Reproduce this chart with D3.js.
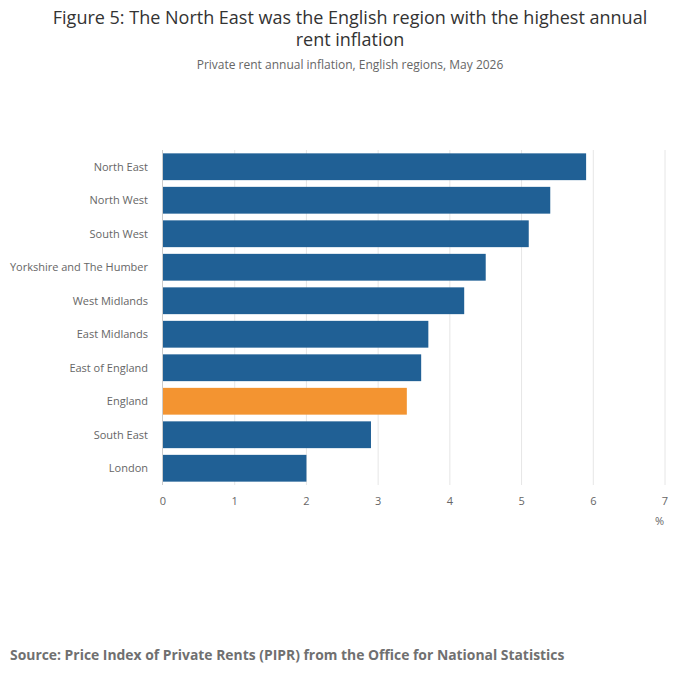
<!DOCTYPE html>
<meta charset="utf-8">
<style>
    body { margin: 0; font-family: "Open Sans", sans-serif; background: #fff; }
    text { font-family: "Open Sans", sans-serif; }
</style>
<body>
<script src="https://d3js.org/d3.v7.min.js"></script>
<script>
var regions = ["North East", "North West", "South West", "Yorkshire and The Humber", "West Midlands",
    "East Midlands", "East of England", "England", "South East", "London"];
var inflation = [5.9, 5.4, 5.1, 4.5, 4.2, 3.7, 3.6, 3.4, 2.9, 2.0];
var xTicks = [0, 1, 2, 3, 4, 5, 6, 7];

var svg = d3.select("body").append("svg").attr("width", 700).attr("height", 682);

svg.append("text").attr("x", 350).attr("y", 24).attr("text-anchor", "middle")
    .attr("font-size", 18).attr("fill", "#333")
    .text("Figure 5: The North East was the English region with the highest annual");
svg.append("text").attr("x", 350).attr("y", 46).attr("text-anchor", "middle")
    .attr("font-size", 18).attr("fill", "#333").text("rent inflation");
svg.append("text").attr("x", 350).attr("y", 69).attr("text-anchor", "middle")
    .attr("font-size", 12).attr("fill", "#666")
    .text("Private rent annual inflation, English regions, May 2026");

var x = d3.scaleLinear().domain([0, 7]).range([163, 665]);
var y = d3.scaleBand().domain(regions).range([150, 485]).paddingInner(0.2).paddingOuter(0.1);

svg.append("g").selectAll("line").data(xTicks.slice(1)).join("line")
    .attr("x1", d => x(d)).attr("x2", d => x(d)).attr("y1", 150).attr("y2", 485)
    .attr("stroke", "#e6e6e6");

svg.append("g").selectAll("rect").data(inflation).join("rect")
    .attr("x", x(0)).attr("y", (d, i) => y(regions[i]))
    .attr("width", d => x(d) - x(0)).attr("height", y.bandwidth())
    .attr("fill", (d, i) => regions[i] === "England" ? "#f39431" : "#206095");

svg.append("line").attr("x1", x(0) - 0.5).attr("x2", x(0) - 0.5).attr("y1", 150).attr("y2", 485)
    .attr("stroke", "#ccc");

svg.append("g").selectAll("text").data(regions).join("text")
    .attr("x", 148).attr("y", d => y(d) + y.bandwidth() / 2).attr("dy", "0.35em")
    .attr("text-anchor", "end").attr("font-size", 11).attr("fill", "#666").text(d => d);

svg.append("g").selectAll("text").data(xTicks).join("text")
    .attr("x", d => x(d)).attr("y", 505).attr("text-anchor", "middle")
    .attr("font-size", 11).attr("fill", "#666").text(d => d);

svg.append("text").attr("x", 664).attr("y", 525).attr("text-anchor", "end")
    .attr("font-size", 11).attr("fill", "#666").text("%");

svg.append("text").attr("x", 10).attr("y", 660).attr("font-size", 13.9).attr("font-weight", "bold")
    .attr("fill", "#707070")
    .text("Source: Price Index of Private Rents (PIPR) from the Office for National Statistics");
</script>
</body>
